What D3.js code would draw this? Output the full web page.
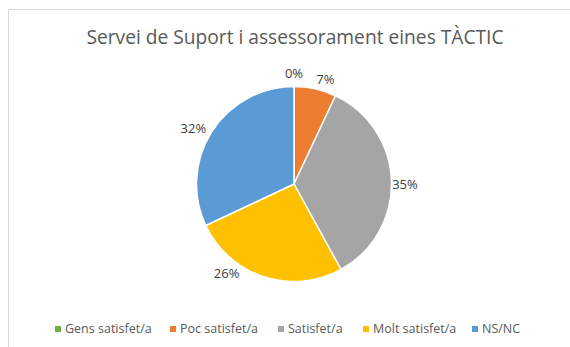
<!DOCTYPE html>
<html>
<head>
<meta charset="utf-8">
<script src="https://cdn.jsdelivr.net/npm/d3@7"></script>
<style>
  html, body { margin: 0; padding: 0; background: #fff; }
  svg { display: block; font-family: "Open Sans", "Noto Sans", sans-serif; }
</style>
</head>
<body>
<svg id="chart" width="570" height="347"></svg>
<script>
// Survey answers for the TÀCTIC support service
const categories = ["Gens satisfet/a", "Poc satisfet/a", "Satisfet/a", "Molt satisfet/a", "NS/NC"];
const percentages = [0, 7, 35, 26, 32];
const colors = ["#70AD47", "#ED7D31", "#A5A5A5", "#FFC000", "#5B9BD5"];
const title = "Servei de Suport i assessorament eines TÀCTIC";

const W = 570, H = 347;
const svg = d3.select("#chart");

// chart frame
svg.append("rect")
  .attr("x", 8.5).attr("y", 9.5)
  .attr("width", W).attr("height", H)
  .attr("fill", "#fff").attr("stroke", "#D9D9D9").attr("stroke-width", 1);

svg.append("text")
  .attr("x", 295).attr("y", 43.5)
  .attr("text-anchor", "middle")
  .attr("font-size", 19.2)
  .attr("fill", "#595959")
  .text(title);

const cx = 294, cy = 184, r = 97.5;
const data = categories.map((c, i) => ({ name: c, value: percentages[i], color: colors[i] }));

const pie = d3.pie().sort(null).value(d => d.value);
const arcs = pie(data);
const arc = d3.arc().innerRadius(0).outerRadius(r);

const g = svg.append("g").attr("transform", `translate(${cx},${cy})`);

g.selectAll("path.slice")
  .data(arcs.filter(a => a.data.value > 0))
  .join("path")
  .attr("class", "slice")
  .attr("d", arc)
  .attr("fill", d => d.data.color)
  .attr("stroke", "#fff")
  .attr("stroke-width", 1.5)
  .attr("stroke-linejoin", "round");

// best-fit label placement: small angular nudges (degrees) keep labels clear of each other
const labelNudge = [0, 4, 2, 19, -3.5];
const labelRadius = [110.5, 109.6, 111, 112, 115];
g.selectAll("text.lbl")
  .data(arcs)
  .join("text")
  .attr("class", "lbl")
  .each(function (d, i) {
    const a = (d.startAngle + d.endAngle) / 2 + labelNudge[i] * Math.PI / 180;
    const rr = labelRadius[i];
    d3.select(this)
      .attr("x", Math.sin(a) * rr)
      .attr("y", -Math.cos(a) * rr)
      .attr("dy", "0.35em");
  })
  .attr("text-anchor", "middle")
  .attr("font-size", 13)
  .attr("fill", "#404040")
  .text(d => d3.format(".0%")(d.data.value / 100));

// legend along the bottom
const legendX = [55, 170, 278, 363, 472];
const lg = svg.append("g").selectAll("g")
  .data(data)
  .join("g")
  .attr("transform", (d, i) => `translate(${legendX[i]},329)`);
lg.append("rect")
  .attr("x", 0).attr("y", -3).attr("width", 6).attr("height", 6)
  .attr("fill", d => d.color);
lg.append("text")
  .attr("x", 10).attr("y", 0).attr("dy", "0.35em")
  .attr("font-size", 12.5)
  .attr("fill", "#595959")
  .text(d => d.name);
</script>
</body>
</html>
